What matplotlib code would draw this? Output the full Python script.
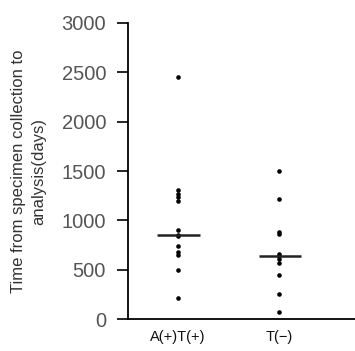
import matplotlib
matplotlib.use('Agg')
import matplotlib.pyplot as plt
import numpy as np

groups = ['A(+)T(+)', 'T(\u2212)']
days_at = [2450, 1310, 1270, 1235, 1195, 900, 855, 840, 745, 680, 650, 495, 215]
days_t = [1500, 1215, 885, 860, 660, 640, 610, 570, 450, 255, 70]
yticks = [0, 500, 1000, 1500, 2000, 2500, 3000]

plt.rcParams['font.family'] = ['Liberation Sans', 'DejaVu Sans']

fig = plt.figure(figsize=(3.55, 3.51), dpi=100)
ax = fig.add_axes([0.3614, 0.0903, 0.6386, 0.845])

for i, vals in enumerate([days_at, days_t]):
	x = i + 1
	ax.plot([x] * len(vals), vals, 'o', color='black', markersize=3.3, markeredgewidth=0)
	ax.plot([x - 0.2, x + 0.22], [np.median(vals)] * 2, color='#222222', linewidth=1.8, solid_capstyle='butt')

ax.set_xlim(0.512, 2.75)
ax.set_ylim(0, 3000)
ax.set_yticks(yticks)
ax.set_xticks([1, 2])
ax.set_xticklabels(groups, fontsize=10.5, color='#111111')
ax.tick_params(axis='x', length=0, pad=8)
ax.tick_params(axis='y', length=8, width=1.2, labelsize=14.5, labelcolor='#555555', pad=8)
for s in ['top', 'right']:
	ax.spines[s].set_visible(False)
for s in ['left', 'bottom']:
	ax.spines[s].set_linewidth(1.3)
ax.set_ylabel('Time from specimen collection to\nanalysis(days)', fontsize=12, color='#333333', labelpad=11, linespacing=1.4)

fig.savefig('out.png', dpi=100)
